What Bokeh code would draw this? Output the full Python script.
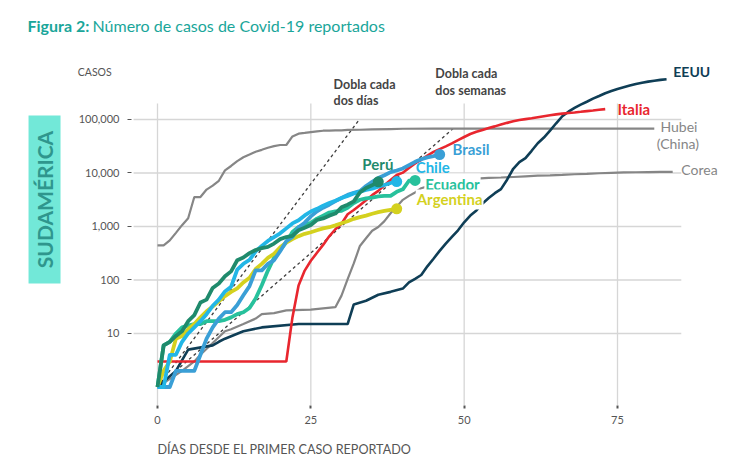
import math
from bokeh.plotting import figure
from bokeh.models import Range1d, FixedTicker, NumeralTickFormatter
from bokeh.core.properties import value
from bokeh.embed import file_html
from bokeh.resources import INLINE

# ---------------- data (days since first case, reported cases) ----------------
peru_days = list(range(0, 37))
peru_cases = [1, 6, 7, 9, 11, 17, 22, 38, 43, 71, 86, 117, 145, 234, 263, 318, 363, 395,
              416, 480, 580, 635, 671, 852, 950, 1065, 1323, 1414, 1595, 1746, 2281, 2561,
              2954, 4342, 5256, 5897, 6848]

chile_days = list(range(0, 40))
chile_cases = [1, 1, 4, 4, 7, 10, 13, 17, 23, 33, 43, 61, 75, 156, 201, 238, 342, 434, 537,
               632, 746, 922, 1142, 1306, 1610, 1909, 2139, 2449, 2738, 3031, 3404, 3737,
               4161, 4471, 4815, 5116, 5546, 5972, 6501, 6927]

brasil_days = list(range(0, 47))
brasil_cases = [1, 1, 1, 2, 2, 2, 2, 4, 8, 13, 19, 25, 25, 34, 52, 77, 151, 151, 200, 234,
                346, 529, 640, 970, 1178, 1546, 1924, 2247, 2554, 2985, 3417, 3904, 4256,
                4579, 5717, 6836, 8044, 9056, 10360, 11130, 12161, 14034, 16170, 18092,
                19638, 20727, 22169]

ecuador_days = list(range(0, 43))
ecuador_cases = [1, 6, 7, 10, 13, 14, 15, 15, 17, 17, 17, 18, 20, 23, 25, 30, 45, 80, 150,
                 260, 367, 506, 789, 981, 1082, 1173, 1403, 1595, 1823, 1924, 1962, 2240,
                 2748, 3163, 3368, 3465, 3646, 3747, 3747, 4450, 4965, 7161, 7257]

argentina_days = list(range(0, 40))
argentina_cases = [1, 2, 3, 8, 9, 12, 15, 20, 26, 32, 40, 50, 60, 70, 90, 110, 160, 200,
                   260, 310, 410, 500, 580, 660, 730, 780, 850, 920, 970, 1050, 1150, 1250,
                   1390, 1500, 1600, 1730, 1850, 1950, 2050, 2140]

italia_days = [0, 21, 22, 23, 24, 25, 26, 27, 28, 29, 30, 31, 32, 33, 34, 35, 36, 37, 38,
               39, 40, 41, 42, 43, 44, 45, 46, 47, 48, 49, 50, 51, 52, 53, 54, 55, 56, 57,
               58, 59, 60, 61, 62, 63, 64, 65, 66, 67, 68, 69, 70, 71, 72, 73]
italia_cases = [3, 3, 20, 79, 150, 229, 322, 453, 655, 888, 1128, 1694, 2036, 2502, 3089,
                3858, 4636, 5883, 7375, 9172, 10149, 12462, 15113, 17660, 21157, 24747,
                27980, 31506, 35713, 41035, 47021, 53578, 59138, 63927, 69176, 74386, 80589,
                86498, 92472, 97689, 101739, 105792, 110574, 115242, 119827, 124632, 128948,
                132547, 135586, 139422, 143626, 147577, 152271, 156363]

eeuu_days = [0, 3, 5, 9, 10, 11, 14, 17, 23, 31, 32, 34, 36, 38, 40, 41, 42, 43, 44, 45, 46,
             47, 48, 49, 50, 51, 52, 53, 54, 55, 56, 57, 58, 59, 60, 61, 62, 63, 64, 65, 66,
             67, 68, 69, 70, 71, 72, 73, 74, 75, 76, 77, 78, 79, 80, 81, 82, 83]
eeuu_cases = [1, 2, 5, 6, 7, 8, 11, 13, 15, 15, 35, 41, 53, 60, 69, 90, 105, 124, 180, 250,
              350, 480, 640, 850, 1200, 1600, 2000, 2700, 3400, 4200, 5000, 7500, 12000,
              16000, 19000, 26000, 36000, 46000, 62000, 85000, 115000, 140000, 165000,
              190000, 215000, 245000, 275000, 310000, 340000, 370000, 400000, 430000,
              460000, 485000, 510000, 530000, 550000, 565000]

hubei_days = [0, 1, 2, 3, 4, 5, 6, 7, 8, 9, 10, 11, 12, 13, 14, 15, 16, 17, 18, 19, 20, 21,
              22, 23, 24, 25, 26, 27, 28, 29, 30, 31, 33, 35, 38, 40, 45, 50, 60, 81]
hubei_cases = [444, 444, 549, 761, 1058, 1423, 3554, 3554, 4903, 5806, 7153, 11177, 13522,
               16678, 19665, 22112, 24953, 27100, 29631, 31728, 33366, 33366, 48206, 54406,
               56249, 58182, 59989, 61682, 62031, 62442, 62662, 64084, 64287, 65187, 66337,
               67103, 67666, 67781, 67800, 67803]

corea_days = [0, 4, 6, 7, 11, 12, 14, 16, 17, 19, 21, 25, 29, 30, 31, 32, 33, 34, 35, 36,
              37, 38, 39, 40, 41, 42, 43, 44, 45, 46, 47, 48, 49, 50, 52, 54, 56, 58, 60,
              62, 64, 66, 68, 70, 72, 74, 76, 78, 80, 82, 84]
corea_cases = [1, 2, 3, 4, 11, 12, 15, 19, 23, 24, 27, 28, 31, 51, 104, 204, 433, 602, 833,
               977, 1261, 1766, 2337, 3150, 3736, 4335, 5186, 5621, 6088, 6593, 7041, 7314,
               7478, 7513, 7869, 8086, 8236, 8413, 8652, 8897, 9037, 9241, 9478, 9661, 9887,
               10062, 10237, 10331, 10423, 10480, 10537]

# reference lines "doubles every ..." (end points)
dobla2_days = [0, 32.8]
dobla2_cases = [1, 96000]
dobla3_days = [0, 48.6]
dobla3_cases = [1, 74000]

x_ticks = [0, 25, 50, 75]
y_ticks = [10, 100, 1000, 10000, 100000]

# ---------------- styling ----------------
FONT = "Lato"
C_PERU = "#1f8a6c"
C_CHILE = "#22b6e6"
C_BRASIL = "#3a9fd6"
C_ECUADOR = "#27c19c"
C_ARG = "#d4d11f"
C_ITALIA = "#e8262e"
C_EEUU = "#0f3e56"
C_GREY = "#868686"
C_GRID = "#d6d6d6"
C_TEAL = "#1aa69a"

X_LEFT, X_RIGHT = -25.6, 94.24      # frame covers the whole canvas
Y_BOTTOM, Y_TOP = 0.04227, 1.676e7
X_AXIS_AT = 0.451                   # where the x axis sits
Y_AXIS_AT = -4.24                   # where the y axis sits

p = figure(width=735, height=460,
           x_range=Range1d(X_LEFT, X_RIGHT), y_range=Range1d(Y_BOTTOM, Y_TOP),
           y_axis_type="log", output_backend="svg", toolbar_location=None,
           min_border=0, min_border_left=0, min_border_right=0,
           min_border_top=0, min_border_bottom=0)
p.title.visible = False
p.outline_line_color = None
p.background_fill_color = "white"
p.border_fill_color = "white"
p.xgrid.visible = False
p.ygrid.visible = False

# axes (placed inside the canvas)
for ax in (p.xaxis[0], p.yaxis[0]):
    ax.axis_line_color = None
    ax.major_tick_in = 0
    ax.minor_tick_line_color = None
    ax.major_label_text_font = FONT
    ax.major_label_text_font_size = "11px"
    ax.major_label_text_color = "#555555"
    ax.major_tick_line_color = "#555555"

p.xaxis[0].fixed_location = X_AXIS_AT
p.xaxis[0].ticker = FixedTicker(ticks=x_ticks, minor_ticks=[])
p.xaxis[0].major_tick_out = 3
p.xaxis[0].major_tick_line_width = 2
p.xaxis[0].major_label_standoff = 8

p.yaxis[0].fixed_location = Y_AXIS_AT
p.yaxis[0].ticker = FixedTicker(ticks=y_ticks, minor_ticks=[])
p.yaxis[0].formatter = NumeralTickFormatter(format="0,0")
p.yaxis[0].major_tick_out = 4
p.yaxis[0].major_tick_line_width = 1
p.yaxis[0].major_label_standoff = 8

# grid lines drawn as segments (limited extent as in the original)
p.segment(x0=[-3.9] * len(y_ticks), y0=y_ticks, x1=[85.4] * len(y_ticks), y1=y_ticks,
          line_color=C_GRID, line_width=1.3)
p.segment(x0=x_ticks, y0=[0.46] * len(x_ticks), x1=x_ticks, y1=[2.0e5] * len(x_ticks),
          line_color=C_GRID, line_width=1.3)

# doubling reference lines
p.line(dobla2_days, dobla2_cases, line_color="#3c3c3c", line_width=1.3, line_dash="3 3")
p.line(dobla3_days, dobla3_cases, line_color="#3c3c3c", line_width=1.3, line_dash="3 3")

# other countries
p.line(hubei_days, hubei_cases, line_color=C_GREY, line_width=2.2)
p.line(corea_days, corea_cases, line_color=C_GREY, line_width=2.2)
p.line(eeuu_days, eeuu_cases, line_color=C_EEUU, line_width=2.6)
p.line(italia_days, italia_cases, line_color=C_ITALIA, line_width=2.6)

# South America
sa = [
    (ecuador_days, ecuador_cases, C_ECUADOR),
    (argentina_days, argentina_cases, C_ARG),
    (brasil_days, brasil_cases, C_BRASIL),
    (chile_days, chile_cases, C_CHILE),
    (peru_days, peru_cases, C_PERU),
]
for d, c, col in sa:
    p.line(d, c, line_color=col, line_width=3.8, line_join="round")
    p.scatter([d[-1]], [c[-1]], size=11, fill_color=col, line_color=None)


def lab(x, y, txt, col, size="15px", style="bold", bg=False, align="left", angle=0.0):
    kw = {}
    if bg:
        kw = dict(background_fill_color="white", padding=1)
    p.text(x=[x], y=[y], text=[txt], text_color=col, text_font=value(FONT),
           text_font_size=size, text_font_style=style, text_align=align,
           text_baseline="middle", angle=angle, **kw)


# country labels
lab(33.4, 1.5e4, "Perú", C_PERU)
lab(48.1, 2.87e4, "Brasil", C_BRASIL)
lab(42.1, 1.27e4, "Chile", C_CHILE)
lab(43.5, 6.36e3, "Ecuador", C_ECUADOR, bg=True)
lab(42.1, 3.2e3, "Argentina", C_ARG, bg=True)
lab(75.0, 1.54e5, "Italia", C_ITALIA)
lab(84.1, 7.9e5, "EEUU", C_EEUU, size="14px")
lab(82.0, 7.4e4, "Hubei", C_GREY, size="14px", style="normal")
lab(81.4, 3.56e4, "(China)", C_GREY, size="14px", style="normal")
lab(85.4, 1.16e4, "Corea", C_GREY, size="14px", style="normal")

lab(28.7, 4.5e5, "Dobla cada", "#444444", size="12.5px")
lab(28.7, 2.26e5, "dos días", "#444444", size="12.5px")
lab(45.3, 7.24e5, "Dobla cada", "#444444", size="12.5px")
lab(45.3, 3.49e5, "dos semanas", "#444444", size="12.5px")

# title, axis titles, side tag
lab(-21.2, 5.71e6, "Figura 2:", C_TEAL, size="16px")
lab(-10.6, 5.71e6, "Número de casos de Covid-19 reportados", C_TEAL, size="16px",
    style="normal")
lab(-13.0, 7.7e5, "CASOS", "#555555", size="10.5px", style="normal")
lab(0.0, 0.0679, "DÍAS DESDE EL PRIMER CASO REPORTADO", "#555555", size="12.6px",
    style="normal")

p.rect(x=[-18.42], y=[3197], width=32, height=168, width_units="screen",
       height_units="screen", fill_color="#72e8d8", line_color=None)
lab(-18.42, 3197, "SUDAMÉRICA", "#2f968d", size="21px", align="center",
    angle=math.pi / 2)

open("out.html", "w").write(file_html(p, INLINE))
